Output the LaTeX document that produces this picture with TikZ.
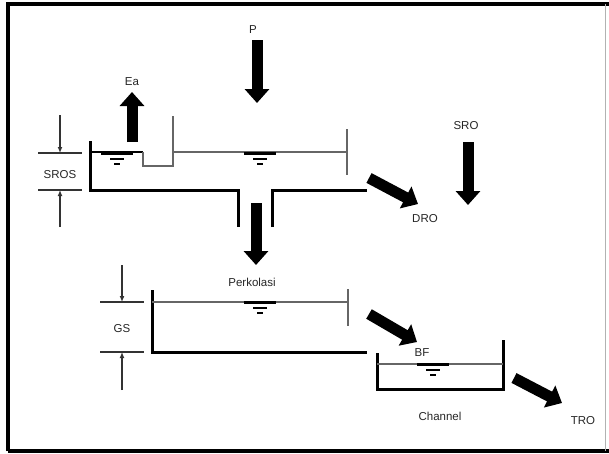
\documentclass[tikz,border=0pt]{standalone}
\usepackage{fontspec}
\setsansfont{Liberation Sans}
\usepackage{tikz}
\usetikzlibrary{arrows.meta}
\usetikzlibrary{backgrounds,positioning}
\pgfdeclarelayer{edgelayer}
\pgfdeclarelayer{nodelayer}
\pgfsetlayers{background,edgelayer,nodelayer,main}
\tikzstyle{none}=[inner sep=0mm]
\tikzstyle{lbl}=[inner sep=1pt,text=black!85,font=\sffamily\fontsize{11.5}{13}\selectfont]
\tikzstyle{flow}=[line width=11pt,-{Triangle[width=24pt,length=14pt]}]
\tikzstyle{dim}=[line width=1.2pt,draw=black!80,-{Latex[length=6pt,width=5pt]}]
\tikzstyle{tick}=[line width=1.2pt,draw=black!80]
\tikzstyle{wall}=[line width=3pt,draw=black]
\tikzstyle{rim}=[line width=1.6pt,draw=black!60]
\tikzstyle{frame}=[line width=4.5pt,draw=black]
\newcommand{\watermark}[2]{%
	\draw[line width=3pt] (#1-16,#2) -- (#1+16,#2);
	\draw[line width=2pt] (#1-7,#2+6) -- (#1+7,#2+6);
	\draw[line width=2pt] (#1-3,#2+11) -- (#1+3,#2+11);
}

\begin{document}
\begin{tikzpicture}[x=1pt,y=-1pt]
	\useasboundingbox (0,0) rectangle (609,453);
	% frame
	\draw[frame] (8,451) -- (8,4) -- (609,4);
	\draw[frame] (8,451) -- (609,451);
	\draw[line width=1pt,draw=black!30] (605,4) -- (605,451);
	\begin{pgfonlayer}{nodelayer}
		\node [style=lbl] (P) at (253,30) {P};
		\node [style=lbl] (Ea) at (132,82) {Ea};
		\node [style=lbl] (SRO) at (466,126) {SRO};
		\node [style=lbl] (DRO) at (425,219) {DRO};
		\node [style=lbl] (SROS) at (60,175) {SROS};
		\node [style=lbl] (perc) at (252,282) {Perkolasi};
		\node [style=lbl] (GS) at (122,329) {GS};
		\node [style=lbl] (BF) at (422,353) {BF};
		\node [style=lbl] (chan) at (440,416) {Channel};
		\node [style=lbl] (TRO) at (583,421) {TRO};
		% arrow ends
		\coordinate (p0) at (257,40);
		\coordinate (p1) at (257,103);
		\coordinate (ea0) at (132,142);
		\coordinate (ea1) at (132,92);
		\coordinate (sro0) at (468,142);
		\coordinate (sro1) at (468,205);
		\coordinate (dro0) at (369,178);
		\coordinate (dro1) at (418,204);
		\coordinate (pe0) at (256,203);
		\coordinate (pe1) at (256,265);
		\coordinate (bf0) at (369,314);
		\coordinate (bf1) at (417,342);
		\coordinate (tro0) at (514,378);
		\coordinate (tro1) at (562,403);
		\coordinate (s0) at (60,115);
		\coordinate (s1) at (60,153);
		\coordinate (s2) at (60,227);
		\coordinate (s3) at (60,190);
		\coordinate (g0) at (122,265);
		\coordinate (g1) at (122,302);
		\coordinate (g2) at (122,390);
		\coordinate (g3) at (122,352);
	\end{pgfonlayer}
	\begin{pgfonlayer}{edgelayer}
		\draw[flow] (p0) to (p1);
		\draw[flow] (ea0) to (ea1);
		\draw[flow] (sro0) to (sro1);
		\draw[flow] (dro0) to (dro1);
		\draw[flow] (pe0) to (pe1);
		\draw[flow] (bf0) to (bf1);
		\draw[flow] (tro0) to (tro1);
		\draw[dim] (s0) to (s1);
		\draw[dim] (s2) to (s3);
		\draw[dim] (g0) to (g1);
		\draw[dim] (g2) to (g3);
		\draw[tick] (38,153) -- (82,153);
		\draw[tick] (38,190) -- (82,190);
		\draw[tick] (100,302) -- (144,302);
		\draw[tick] (100,352) -- (144,352);
	\end{pgfonlayer}
	% upper tank
	\draw[wall] (90,141) -- (90,190) -- (238,190) -- (238,227);
	\draw[wall] (272,227) -- (272,190) -- (367,190);
	\draw[line width=2pt] (90,152) -- (143,152);
	\draw[rim] (143,152) -- (143,166) -- (173,166) -- (173,116);
	\draw[rim] (173,152) -- (347,152);
	\draw[rim] (347,129) -- (347,175);
	\watermark{117}{153}
	\watermark{260}{153}
	% ground storage
	\draw[wall] (152,290) -- (152,352) -- (367,352);
	\draw[rim] (152,302) -- (348,302);
	\draw[rim] (348,289) -- (348,326);
	\watermark{260}{302}
	% channel
	\draw[wall] (377,353) -- (377,389) -- (503,389) -- (503,340);
	\draw[rim] (377,364) -- (503,364);
	\watermark{433}{364}
\end{tikzpicture}
\end{document}
